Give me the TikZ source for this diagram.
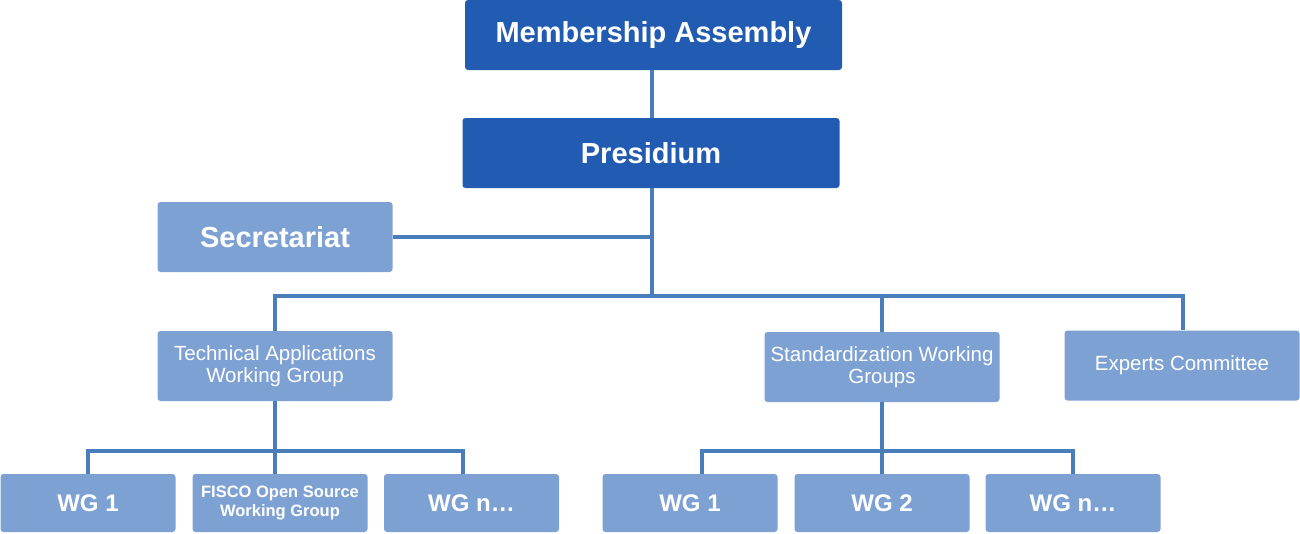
\documentclass[tikz,border=0pt]{standalone}
\usepackage{fontspec}
\setmainfont{Liberation Sans}
\definecolor{darkbox}{RGB}{33,92,178}
\definecolor{lightbox}{RGB}{126,161,212}
\definecolor{linecol}{RGB}{74,126,187}
\tikzset{
  box/.style={rectangle, rounded corners=3pt, inner sep=0pt, text=white, align=center, anchor=center},
  topbox/.style={box, fill=darkbox, minimum width=377pt, minimum height=70pt, font=\fontsize{29}{34}\selectfont\bfseries},
  midbox/.style={box, fill=lightbox, minimum width=235pt, minimum height=70pt, font=\fontsize{20.5}{22}\selectfont},
  secbox/.style={box, fill=lightbox, minimum width=235pt, minimum height=70pt, font=\fontsize{29}{34}\selectfont\bfseries},
  wgbox/.style={box, fill=lightbox, minimum width=175pt, minimum height=58pt, font=\fontsize{24}{28}\selectfont\bfseries},
  fiscobox/.style={box, fill=lightbox, minimum width=175pt, minimum height=58pt, font=\fontsize{16.5}{19}\selectfont\bfseries},
  conn/.style={draw=linecol, line width=4pt}
}
\begin{document}
\begin{tikzpicture}[x=1pt,y=-1pt]
\useasboundingbox (0,0) rectangle (1300,533);
% nodes
\node[topbox] (ma) at (653.5,35) {Membership Assembly};
\node[topbox] (pres) at (651,153) {Presidium};
\node[secbox] (sec) at (275,237) {Secretariat};
\node[midbox] (tawg) at (275,366) {Technical Applications\\Working Group};
\node[midbox] (swg) at (882,367) {Standardization Working\\Groups};
\node[midbox] (ec) at (1182,365.5) {Experts Committee};
\node[wgbox] (lwg1) at (88,503) {WG 1};
\node[fiscobox] (fisco) at (280,503) {FISCO Open Source\\Working Group};
\node[wgbox] (lwgn) at (471.5,503) {WG n\ldots};
\node[wgbox] (rwg1) at (690,503) {WG 1};
\node[wgbox] (rwg2) at (882,503) {WG 2};
\node[wgbox] (rwgn) at (1073,503) {WG n\ldots};
\coordinate (busy) at (0,296);
\coordinate (subl) at (0,451);
\coordinate (subr) at (0,451);
% connectors
\draw[conn] ([xshift=1pt]pres.north |- ma.south) -- ([xshift=1pt]pres.north);
\draw[conn] ([xshift=1pt]pres.south) -- ([xshift=1pt]pres.south |- busy);
\draw[conn] (sec.east) -- ([xshift=1pt]pres.south |- sec.east);
\draw[conn] (tawg.north) |- ([xshift=1pt]ec.north |- busy) -- ([xshift=1pt]ec.north);
\draw[conn] (swg.north) -- (swg.north |- busy);
\draw[conn] (tawg.south) -- (tawg.south |- subl);
\draw[conn] (lwg1.north) |- ([xshift=-9pt]lwgn.north |- subl) -- ([xshift=-9pt]lwgn.north);
\draw[conn] ([xshift=-5pt]fisco.north) -- ([xshift=-5pt]fisco.north |- subl);
\draw[conn] (swg.south) -- (swg.south |- subr);
\draw[conn] ([xshift=12pt]rwg1.north) |- (rwgn.north |- subr) -- (rwgn.north);
\draw[conn] (rwg2.north) -- (rwg2.north |- subr);
\end{tikzpicture}
\end{document}
